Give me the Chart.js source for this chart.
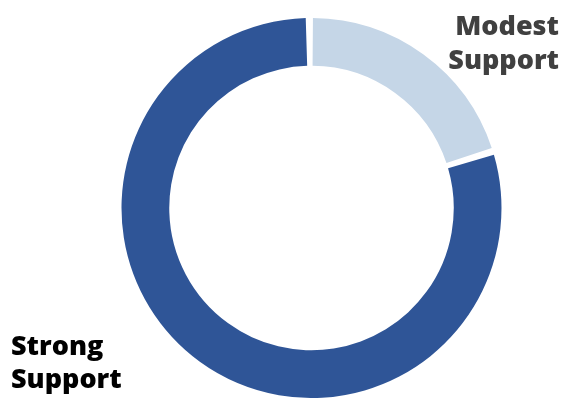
<!DOCTYPE html>
<html>
<head>
<meta charset="utf-8">
<script src="https://cdn.jsdelivr.net/npm/chart.js@4.4.0/dist/chart.umd.min.js"></script>
<style>
    html, body { margin: 0; padding: 0; background: #fff; overflow: hidden; }
    #wrap { width: 564px; height: 398px; }
</style>
</head>
<body>
<div id="wrap"><canvas id="mainChart"></canvas></div>
<script>
// Data
const categories = ['Modest Support', 'Strong Support'];
const shares = [20, 80];
const sliceColors = ['#C5D6E7', '#2F5597'];

// Labels outside the ring
const labelLines = [['Modest', 'Support'], ['Strong', 'Support']];

const outsideLabels = {
    id: 'outsideLabels',
    afterDraw(chart) {
        const c = chart.ctx;
        c.save();
        c.font = '800 27px "Open Sans"';
        c.textBaseline = 'alphabetic';

        // Modest Support, top right
        c.fillStyle = '#404040';
        c.textAlign = 'right';
        c.fillText(labelLines[0][0], chart.width - 5, 35);
        c.fillText(labelLines[0][1], chart.width - 5, 69);

        // Strong Support, bottom left
        c.fillStyle = '#000000';
        c.textAlign = 'left';
        c.fillText(labelLines[1][0], 11, 355);
        c.fillText(labelLines[1][1], 11, 388);
        c.restore();
    }
};

const ctx = document.getElementById('mainChart');
new Chart(ctx, {
    type: 'doughnut',
    data: {
        labels: categories,
        datasets: [{
            data: shares,
            backgroundColor: sliceColors,
            borderWidth: 0,
            hoverOffset: 0
        }]
    },
    options: {
        responsive: true,
        maintainAspectRatio: false,
        animation: false,
        cutout: '74.6%',
        spacing: 4,
        layout: {
            padding: { left: 120.5, right: 61.5, top: 18, bottom: -2 }
        },
        plugins: {
            legend: { display: false },
            tooltip: { enabled: false }
        }
    },
    plugins: [outsideLabels]
});
</script>
</body>
</html>
